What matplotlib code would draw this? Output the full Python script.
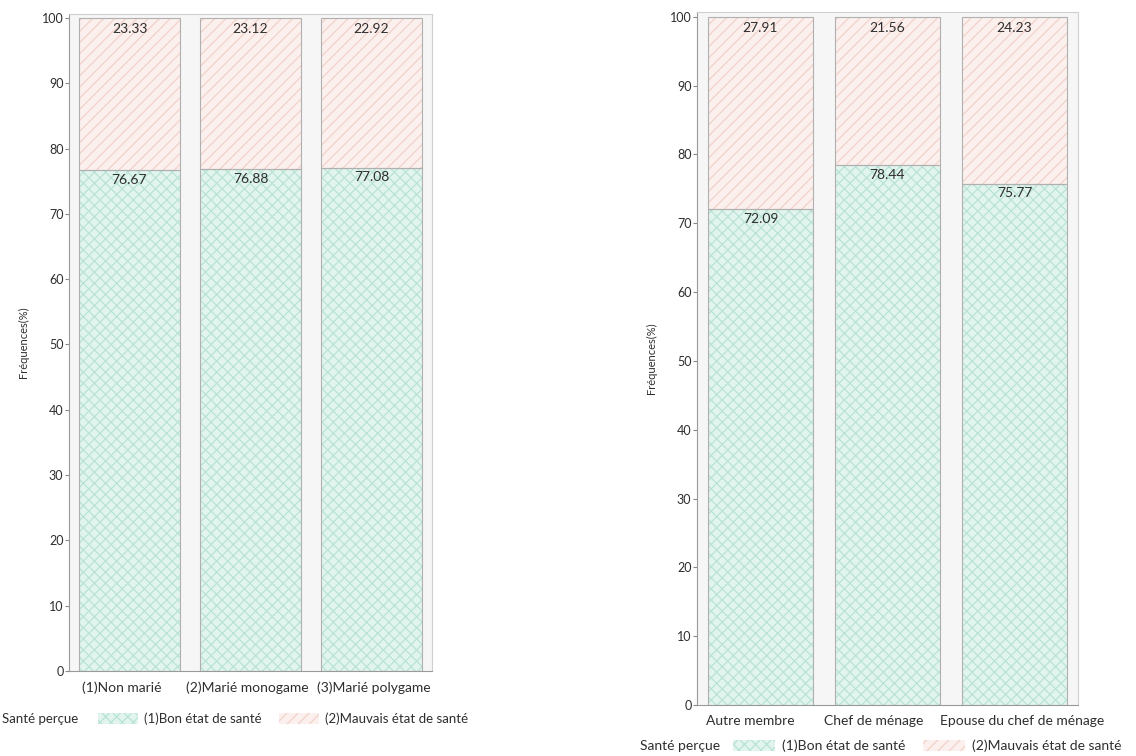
import matplotlib
matplotlib.use("Agg")
import matplotlib.pyplot as plt
from matplotlib.patches import Patch

plt.rcParams['font.family'] = ['Lato', 'DejaVu Sans']
plt.rcParams['hatch.linewidth'] = 0.9

# Data
cats_left = ["(1)Non marié", "(2)Marié monogame", "(3)Marié polygame"]
bon_left = [76.67, 76.88, 77.08]
mauvais_left = [23.33, 23.12, 22.92]

cats_right = ["Autre membre", "Chef de ménage", "Epouse du chef de ménage"]
bon_right = [72.09, 78.44, 75.77]
mauvais_right = [27.91, 21.56, 24.23]

yticks = [0, 10, 20, 30, 40, 50, 60, 70, 80, 90, 100]
legend_title = "Santé perçue"
series_names = ["(1)Bon état de santé", "(2)Mauvais état de santé"]

GREEN_FILL = "#e2f4ee"
GREEN_HATCH = "#b9e3d5"
PINK_FILL = "#fbf0ed"
PINK_HATCH = "#f1d2ca"
EDGE = "#b0b0b0"
BG = "#f6f6f6"
TXT = "#2e2e2e"

fig = plt.figure(figsize=(11.36, 7.56), dpi=100)
fig.patch.set_facecolor("white")

W, H = 1136, 756
def axrect(l, r, t, b):
    return [l / W, 1 - b / H, (r - l) / W, (b - t) / H]

ax1 = fig.add_axes(axrect(69, 432, 14, 671))
ax2 = fig.add_axes(axrect(697, 1078, 12, 705))

def draw(ax, cats, bon, mauvais, ytop, label_shifts):
    x = list(range(len(cats)))
    width = 0.83
    ax.set_facecolor(BG)
    ax.bar(x, bon, width=width, color=GREEN_FILL, edgecolor=GREEN_HATCH,
           hatch="xxx", linewidth=0)
    ax.bar(x, mauvais, width=width, bottom=bon, color=PINK_FILL,
           edgecolor=PINK_HATCH, hatch="///", linewidth=0)
    ax.bar(x, bon, width=width, fill=False, edgecolor=EDGE, linewidth=0.8)
    ax.bar(x, mauvais, width=width, bottom=bon, fill=False, edgecolor=EDGE,
           linewidth=0.8)
    for xi, b, m in zip(x, bon, mauvais):
        ax.annotate(f"{b:.2f}", (xi, b), xytext=(0, -7), textcoords="offset points",
                    ha="center", va="center", fontsize=10, color=TXT)
        ax.annotate(f"{m:.2f}", (xi, b + m), xytext=(0, -8), textcoords="offset points",
                    ha="center", va="center", fontsize=10, color=TXT)
    ax.set_xlim(-0.5, len(cats) - 0.5)
    ax.set_ylim(0, ytop)
    ax.set_yticks(yticks)
    ax.set_yticklabels([str(v) for v in yticks], fontsize=9, color=TXT)
    ax.set_xticks(x)
    ax.set_xticklabels([])
    ax.tick_params(axis="x", length=0)
    for xi, c, dx in zip(x, cats, label_shifts):
        ax.annotate(c, (xi, 0), xycoords=("data", "axes fraction"),
                    xytext=(dx * 0.72, -7.5), textcoords="offset points",
                    ha="center", va="top", fontsize=10, color=TXT,
                    annotation_clip=False)
    ax.tick_params(axis="y", length=3, width=0.8, color="#888888", pad=1)
    for s in ["top", "right"]:
        ax.spines[s].set_color("#d0d0d0")
    for s in ["left", "bottom"]:
        ax.spines[s].set_color("#9a9a9a")
    ax.set_ylabel("Fréquences(%)", fontsize=8, color=TXT, labelpad=9)

# label shifts in pixels
draw(ax1, cats_left, bon_left, mauvais_left, 100.6, [-8, -3, 2])
draw(ax2, cats_right, bon_right, mauvais_right, 100.7, [-10, -14, 8])

handles = [
    Patch(facecolor=GREEN_FILL, edgecolor=GREEN_HATCH, hatch="xxx", linewidth=0),
    Patch(facecolor=PINK_FILL, edgecolor=PINK_HATCH, hatch="///", linewidth=0),
]

def legend(x_title, y, x_leg, fs):
    fig.text(x_title / W, 1 - y / H, legend_title, fontsize=fs, color=TXT,
             ha="left", va="center")
    fig.legend(handles, series_names, loc="center left",
               bbox_to_anchor=(x_leg / W, 1 - y / H), ncol=2, frameon=False,
               fontsize=fs, handlelength=3.0, handleheight=0.9,
               columnspacing=1.3, handletextpad=0.5, borderaxespad=0,
               borderpad=0, labelcolor=TXT)

legend(2, 719, 98, 9.5)
legend(640, 746, 733, 10)

fig.savefig("out.png", dpi=100)
